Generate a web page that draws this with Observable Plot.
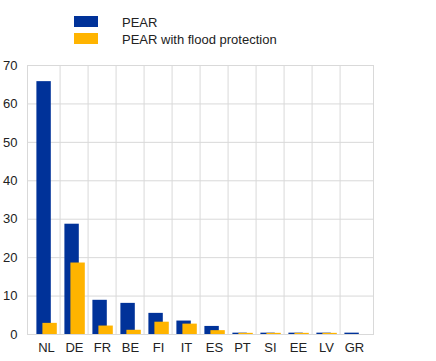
<!DOCTYPE html>
<html><head><meta charset="utf-8">
<script src="https://cdn.jsdelivr.net/npm/d3@7"></script>
<script src="https://cdn.jsdelivr.net/npm/@observablehq/plot@0.6"></script>
<style>
body{margin:0;background:#fff;font-family:"Liberation Sans",Arial,sans-serif;}
#wrap{position:relative;width:436px;height:361px;}
.leg{position:absolute;left:74px;font-size:13px;color:#222;}
.leg .sw{position:absolute;left:0;top:0;width:24px;height:11px;}
.leg .tx{position:absolute;left:48px;white-space:nowrap;line-height:13px;}
</style>
</head><body>
<div id="wrap"></div>
<script>
const countries = ["NL","DE","FR","BE","FI","IT","ES","PT","SI","EE","LV","GR"];
const pear = [65.8,28.7,8.9,8.1,5.5,3.5,2.1,0.35,0.35,0.35,0.35,0.35];
const pearFlood = [2.9,18.6,2.2,1.1,3.2,2.7,1.0,0.3,0.3,0.3,0.3,0];
const seriesNames = ["PEAR","PEAR with flood protection"];
const colors = ["#003299","#FFB400"];
const yTicks = [0,10,20,30,40,50,60,70];

const d1 = countries.map((c,i)=>({c, v:pear[i]}));
const d2 = countries.map((c,i)=>({c, v:pearFlood[i]}));
const bw = (373-27)/countries.length;

const chart = Plot.plot({
  width:436, height:361,
  marginTop:65, marginBottom:27, marginLeft:27, marginRight:63,
  style:{fontFamily:"'Liberation Sans',Arial,sans-serif", fontSize:"13px", color:"#222"},
  x:{domain:countries, padding:0, label:null},
  y:{domain:[0,70], label:null},
  marks:[
    Plot.gridY(yTicks,{stroke:"#d9d9d9", strokeOpacity:1}),
    Plot.ruleX(countries.slice(1),{x:d=>d, dx:-bw/2, stroke:"#d9d9d9"}),
    Plot.frame({stroke:"#d9d9d9"}),
    Plot.barY(d1,{x:"c", y:"v", fill:colors[0], insetLeft:4.4, insetRight:9.2}),
    Plot.barY(d2,{x:"c", y:"v", fill:colors[1], insetLeft:10.4, insetRight:3.2}),
    Plot.axisX({tickSize:0, tickPadding:8, fontSize:13}),
    Plot.axisY({ticks:yTicks, tickSize:0, tickPadding:10, fontSize:13})
  ]
});
const wrap = document.getElementById("wrap");
wrap.appendChild(chart);
seriesNames.forEach((n,i)=>{
  const row = document.createElement("div");
  row.className="leg";
  row.style.top = (16+17*i)+"px";
  row.innerHTML = `<div class="sw" style="background:${colors[i]}"></div><div class="tx" style="top:0px">${n}</div>`;
  wrap.appendChild(row);
});
</script>
</body></html>
